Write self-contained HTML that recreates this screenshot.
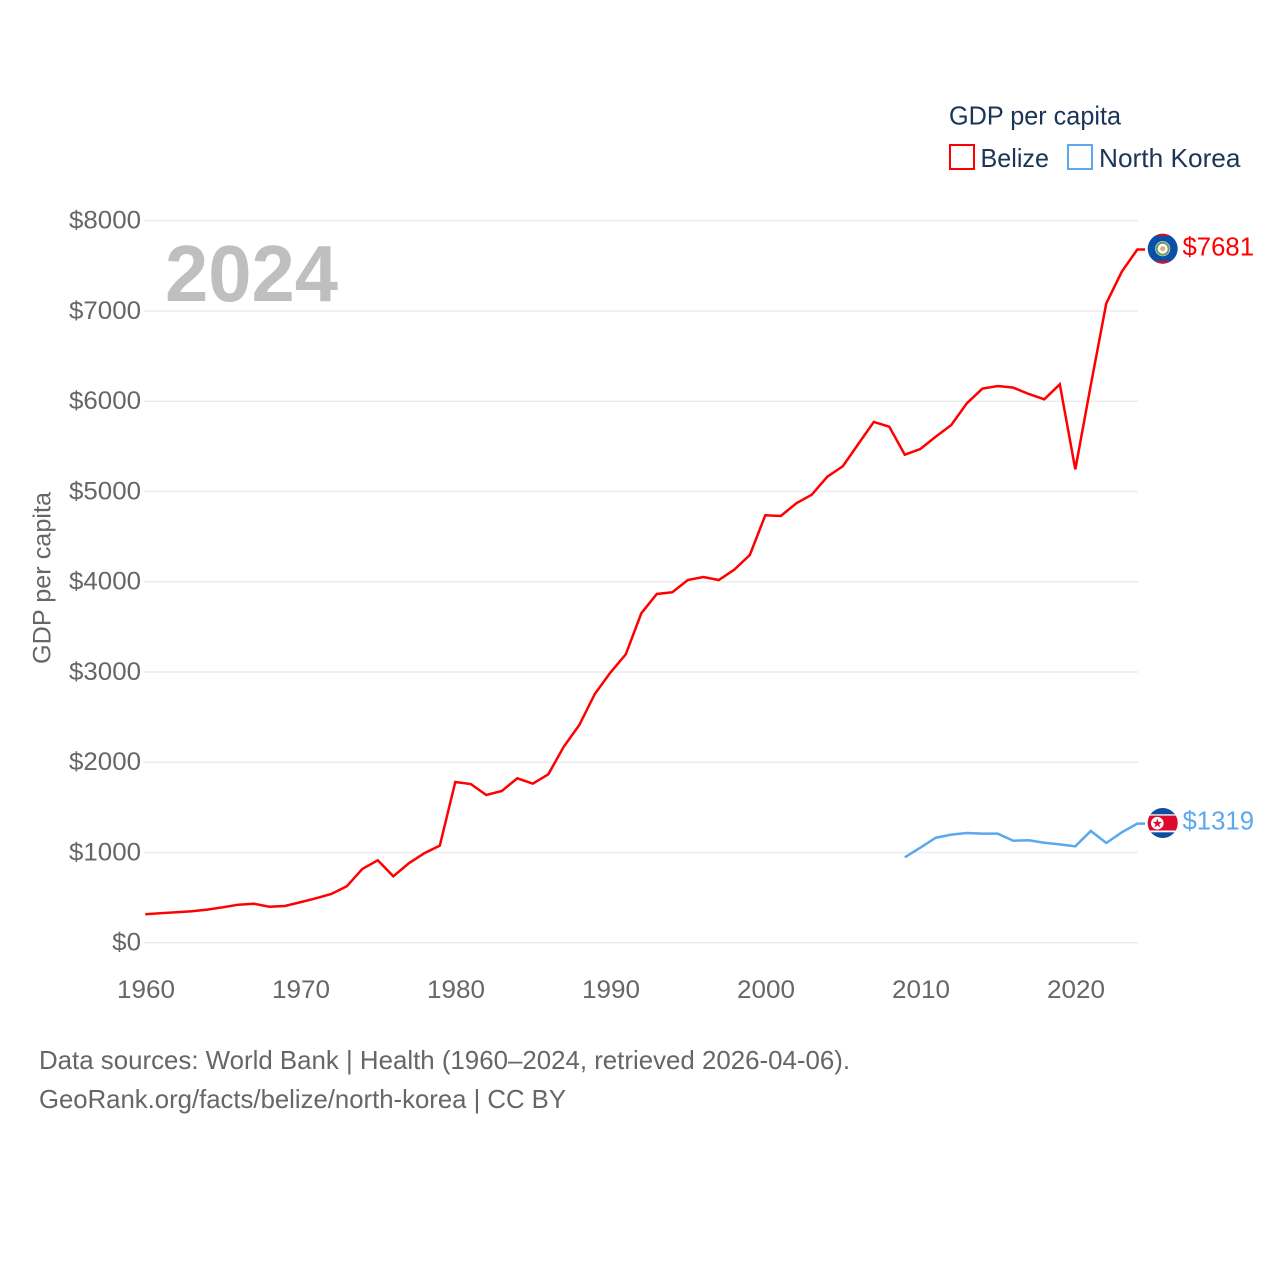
<!DOCTYPE html>
<html lang="en">
<head>
<meta charset="utf-8">
<title>GDP per capita: Belize and North Korea</title>
<style>
  html, body { margin: 0; padding: 0; background: #fff; }
  #chart { display: block; width: 1280px; height: 1280px; }
  text { font-family: "Liberation Sans", "DejaVu Sans", sans-serif; }
</style>
</head>
<body>
<svg id="chart" xmlns="http://www.w3.org/2000/svg" width="1280" height="1280" viewBox="0 0 1280 1280">
  <defs>
    <clipPath id="clip-bz"><circle cx="1162.7" cy="248.7" r="15"></circle></clipPath>
    <clipPath id="clip-kp"><circle cx="1162.7" cy="823" r="15"></circle></clipPath>
  </defs>
  <rect x="0" y="0" width="1280" height="1280" fill="#ffffff"></rect>

  <g id="grid"></g>
  <g id="y-ticks"></g>
  <g id="x-ticks"></g>

  <text x="165" y="301" font-size="80" font-weight="700" fill="#bfbfbf" textLength="173" lengthAdjust="spacingAndGlyphs">2024</text>

  <text transform="translate(50.5 578) rotate(-90)" text-anchor="middle" font-size="25" fill="#666666" textLength="172" lengthAdjust="spacingAndGlyphs">GDP per capita</text>

  <g id="series"></g>

  <g>
    <text x="949" y="124.5" font-size="26" fill="#1a3557" textLength="172" lengthAdjust="spacingAndGlyphs">GDP per capita</text>
    <g>
      <rect x="950" y="145" width="24" height="24" fill="none" stroke="#ff0000" stroke-width="2"></rect>
      <text x="980.5" y="167" font-size="26" fill="#1a3557" textLength="68.5" lengthAdjust="spacingAndGlyphs">Belize</text>
    </g>
    <g>
      <rect x="1068" y="145" width="24" height="24" fill="none" stroke="#5ba8ee" stroke-width="2"></rect>
      <text x="1099" y="167" font-size="26" fill="#1a3557" textLength="141.5" lengthAdjust="spacingAndGlyphs">North Korea</text>
    </g>
  </g>

  <g clip-path="url(#clip-bz)">
    <rect x="1147" y="233" width="32" height="32" fill="#0a4fa8"></rect>
    <rect x="1147" y="233" width="32" height="3" fill="#ce1126"></rect>
    <rect x="1147" y="261" width="32" height="4" fill="#ce1126"></rect>
    <circle cx="1162.7" cy="248.7" r="7.5" fill="#ffffff"></circle>
    <circle cx="1162.7" cy="248.7" r="6" fill="none" stroke="#6a9a5c" stroke-width="2"></circle>
    <circle cx="1162.7" cy="248.7" r="2.6" fill="#d8b27a"></circle>
  </g>
  <g clip-path="url(#clip-kp)">
    <rect x="1147" y="807" width="32" height="32" fill="#0b4ea2"></rect>
    <rect x="1147" y="814.3" width="32" height="18" fill="#ffffff"></rect>
    <rect x="1147" y="815.6" width="32" height="14.9" fill="#dc0a2d"></rect>
    <circle cx="1157.3" cy="823.2" r="6.3" fill="#ffffff"></circle>
    <text x="1157.3" y="827.6" text-anchor="middle" font-size="12.5" fill="#dc0a2d" style="font-family:'DejaVu Sans',sans-serif">★</text>
  </g>

  <text x="1182.5" y="255.5" font-size="26" fill="#ff0000" textLength="71.5" lengthAdjust="spacingAndGlyphs" id="label-belize"></text>
  <text x="1182.5" y="829.5" font-size="26" fill="#5ba8ee" textLength="71.5" lengthAdjust="spacingAndGlyphs" id="label-nk"></text>

  <g>
    <text x="39" y="1069" font-size="26" fill="#666666" textLength="811" lengthAdjust="spacingAndGlyphs">Data sources: World Bank | Health (1960–2024, retrieved 2026-04-06).</text>
    <text x="39" y="1108" font-size="26" fill="#666666" textLength="527" lengthAdjust="spacingAndGlyphs">GeoRank.org/facts/belize/north-korea | CC BY</text>
  </g>
</svg>

<script>
const belizeStartYear = 1960;
const belizeValues = [
  315, 327, 338, 349, 366, 392, 421, 432, 399, 407,
  448, 492, 540, 625, 817, 913, 736, 880, 991, 1075,
  1781, 1758, 1637, 1681, 1822, 1762, 1866, 2172, 2412, 2756,
  2992, 3196, 3650, 3864, 3883, 4019, 4052, 4019, 4133, 4296,
  4736, 4728, 4869, 4964, 5163, 5279, 5526, 5770, 5717, 5407,
  5470, 5607, 5736, 5977, 6139, 6168, 6150, 6080, 6021, 6187,
  5245, 6179, 7085, 7435, 7681
];
const northKoreaStartYear = 2009;
const northKoreaValues = [
  946, 1053, 1163, 1197, 1215, 1208, 1208, 1130, 1135, 1108,
  1090, 1068, 1238, 1105, 1223, 1319
];
const yTickValues = [0, 1000, 2000, 3000, 4000, 5000, 6000, 7000, 8000];
const xTickYears = [1960, 1970, 1980, 1990, 2000, 2010, 2020];

const SVG_NS = 'http://www.w3.org/2000/svg';
const xScale = (year) => 145.3 + (year - 1960) * 15.5;
const yScale = (value) => 942.7 - value * 0.09025;
const money = (value) => '$' + value;

const gridLayer = document.getElementById('grid');
const yLayer = document.getElementById('y-ticks');
const xLayer = document.getElementById('x-ticks');
const seriesLayer = document.getElementById('series');

yTickValues.forEach(function (tick) {
  const line = document.createElementNS(SVG_NS, 'line');
  line.setAttribute('x1', 144);
  line.setAttribute('x2', 1138);
  line.setAttribute('y1', yScale(tick));
  line.setAttribute('y2', yScale(tick));
  line.setAttribute('stroke', '#ececec');
  line.setAttribute('stroke-width', 1.5);
  
  
  gridLayer.appendChild(line);

  const label = document.createElementNS(SVG_NS, 'text');
  const content = money(tick);
  label.textContent = content;
  label.setAttribute('x', 141);
  label.setAttribute('y', yScale(tick) + 8);
  label.setAttribute('text-anchor', 'end');
  label.setAttribute('font-size', 25);
  label.setAttribute('fill', '#666666');
  label.setAttribute('textLength', content.length * 14.4);
  label.setAttribute('lengthAdjust', 'spacingAndGlyphs');
  
  
  yLayer.appendChild(label);
});

xTickYears.forEach(function (year) {
  const label = document.createElementNS(SVG_NS, 'text');
  label.textContent = String(year);
  label.setAttribute('x', xScale(year) + 0.7);
  label.setAttribute('y', 998);
  label.setAttribute('text-anchor', 'middle');
  label.setAttribute('font-size', 25);
  label.setAttribute('fill', '#666666');
  label.setAttribute('textLength', 58);
  label.setAttribute('lengthAdjust', 'spacingAndGlyphs');
  
  
  xLayer.appendChild(label);
});

function linePoints(startYear, values) {
  const points = values.map(function (value, index) {
    return xScale(startYear + index).toFixed(2) + ',' + yScale(value).toFixed(2);
  });
  const last = values[values.length - 1];
  points.push('1145,' + yScale(last).toFixed(2));
  return points.join(' ');
}

const belizeLine = document.createElementNS(SVG_NS, 'polyline');
belizeLine.setAttribute('points', linePoints(belizeStartYear, belizeValues));
belizeLine.setAttribute('fill', 'none');
belizeLine.setAttribute('stroke', '#ff0000');
belizeLine.setAttribute('stroke-width', 2.5);
belizeLine.setAttribute('stroke-linejoin', 'miter');


seriesLayer.appendChild(belizeLine);

const northKoreaLine = document.createElementNS(SVG_NS, 'polyline');
northKoreaLine.setAttribute('points', linePoints(northKoreaStartYear, northKoreaValues));
northKoreaLine.setAttribute('fill', 'none');
northKoreaLine.setAttribute('stroke', '#5ba8ee');
northKoreaLine.setAttribute('stroke-width', 2.5);
northKoreaLine.setAttribute('stroke-linejoin', 'miter');


seriesLayer.appendChild(northKoreaLine);

document.getElementById('label-belize').textContent = money(belizeValues[belizeValues.length - 1]);
document.getElementById('label-nk').textContent = money(northKoreaValues[northKoreaValues.length - 1]);
</script>
</body>
</html>
